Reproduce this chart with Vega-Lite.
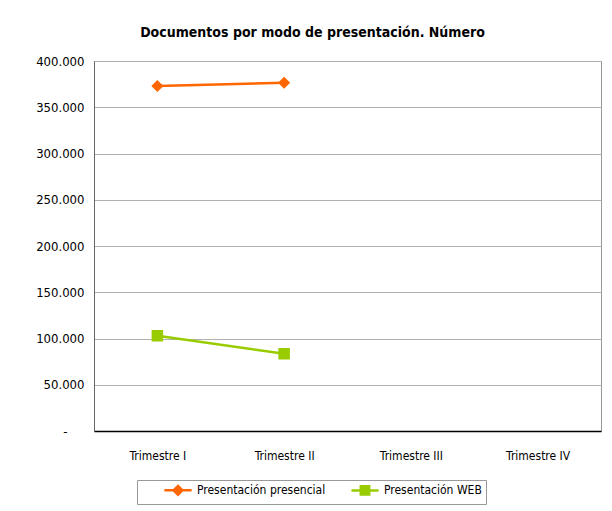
{
  "$schema": "https://vega.github.io/schema/vega-lite/v6.json",
  "width": 507,
  "height": 370,
  "autosize": {"type": "none"},
  "padding": {"left": 94, "top": 61, "right": 11, "bottom": 80},
  "background": "white",
  "title": {
    "text": "Documentos por modo de presentación. Número",
    "font": "DejaVu Sans Condensed, sans-serif",
    "fontSize": 14,
    "fontWeight": "bold",
    "color": "black",
    "anchor": "middle",
    "dx": -35,
    "offset": 15
  },
  "config": {
    "font": "DejaVu Sans Condensed, sans-serif",
    "view": {"stroke": "#999999", "strokeWidth": 1}
  },
  "data": {
    "values": [
      {"trimestre": "Trimestre I", "serie": "Presentación presencial", "valor": 372900},
      {"trimestre": "Trimestre II", "serie": "Presentación presencial", "valor": 376500},
      {"trimestre": "Trimestre I", "serie": "Presentación WEB", "valor": 103000},
      {"trimestre": "Trimestre II", "serie": "Presentación WEB", "valor": 83600}
    ]
  },
  "encoding": {
    "x": {
      "field": "trimestre",
      "type": "ordinal",
      "scale": {"type": "point", "domain": ["Trimestre I", "Trimestre II", "Trimestre III", "Trimestre IV"], "padding": 0.5},
      "axis": {
        "title": null,
        "labelAngle": 0,
        "ticks": false,
        "grid": false,
        "domainColor": "black",
        "domainWidth": 1.5,
        "labelFontSize": 12,
        "labelColor": "black",
        "labelPadding": 19
      }
    },
    "y": {
      "field": "valor",
      "type": "quantitative",
      "scale": {"domain": [0, 400000], "nice": false},
      "axis": {
        "title": null,
        "values": [0, 50000, 100000, 150000, 200000, 250000, 300000, 350000, 400000],
        "ticks": false,
        "grid": true,
        "gridColor": "#b0b0b0",
        "domainColor": "#666666",
        "labelFontSize": 13,
        "labelColor": "black",
        "labelPadding": 10,
        "labelExpr": "datum.value === 0 ? '-\u2800\u2800' : replace(format(datum.value, ','), /,/g, '.')"
      }
    },
    "color": {
      "field": "serie",
      "type": "nominal",
      "scale": {"domain": ["Presentación presencial", "Presentación WEB"], "range": ["#FF6600", "#99CC00"]},
      "legend": {
        "title": null,
        "orient": "none",
        "direction": "horizontal",
        "legendX": 43,
        "legendY": 419,
        "padding": 4,
        "strokeColor": "#999999",
        "fillColor": "white",
        "symbolSize": 64,
        "symbolOffset": 31,
        "labelOffset": 13,
        "columnPadding": 2,
        "labelFontSize": 12,
        "labelColor": "black",
        "encode": {
          "symbols": {
            "update": {
              "shape": {"scale": "shape", "field": "value"},
              "fill": {"scale": "color", "field": "value"},
              "stroke": {"scale": "color", "field": "value"},
              "strokeWidth": {"value": 2.5},
              "opacity": {"value": 1},
              "size": {"value": 64}
            }
          }
        }
      }
    }
  },
  "layer": [
    {
      "mark": {"type": "line", "strokeWidth": 2.5}
    },
    {
      "mark": {"type": "point", "filled": true, "opacity": 1, "size": 121},
      "encoding": {
        "shape": {
          "field": "serie",
          "type": "nominal",
          "scale": {
            "domain": ["Presentación presencial", "Presentación WEB"],
            "range": [
              "M-3.4,0H3.4M-1.1,0L0,-1.1L1.1,0L0,1.1Z",
              "M-3.4,0H3.4M-1.05,-1.05H1.05V1.05H-1.05Z"
            ]
          },
          "legend": null
        }
      }
    }
  ]
}
